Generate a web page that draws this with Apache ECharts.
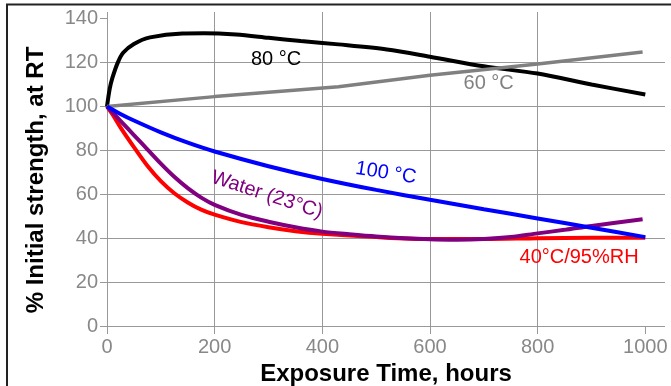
<!DOCTYPE html>
<html>
<head>
<meta charset="utf-8">
<script src="https://cdn.jsdelivr.net/npm/echarts@6/dist/echarts.min.js"></script>
<style>
  html, body { margin: 0; padding: 0; background: #fff; }
  #chart { width: 671px; height: 386px; }
</style>
</head>
<body>
<div id="chart"></div>
<script>
// strength retention vs exposure time
var xTicks = [0, 200, 400, 600, 800, 1000];
var yTicks = [0, 20, 40, 60, 80, 100, 120, 140];

var rh40 = [[0,100],[10,96.5],[25,90.5],[50,81.5],[75,73],[100,66],[125,60.5],[150,56.3],[175,53],[200,50.7],[250,47.3],[300,45],[350,43.2],[400,42],[500,40.5],[600,39.6],[700,39.6],[800,40],[900,40.2],[1000,40.2]];
var water = [[0,100],[25,93.5],[50,87],[75,80.5],[100,74],[125,68],[150,62.8],[175,58.5],[200,55.2],[250,50.6],[300,47.5],[350,45],[400,43],[450,41.8],[500,40.8],[600,39.5],[650,39.3],[700,39.6],[750,40.5],[800,42.2],[850,43.8],[900,45.6],[995,48.6]];
var t80 = [[0,100],[5,108],[10,113],[20,120],[30,124.5],[50,128.5],[80,131.5],[140,133.3],[180,133.4],[240,132.8],[300,131.3],[360,129.8],[430,128.3],[520,126],[600,122.7],[700,118.3],[800,115],[900,110],[1000,105.5]];
var t60 = [[0,100],[200,104.5],[430,109],[600,114.2],[800,119.4],[995,124.8]];
var t100 = [[0,100],[25,96.6],[50,93.6],[100,88.2],[150,83.5],[200,79.5],[300,72.8],[400,67],[500,62],[600,57.5],[700,53.2],[800,49],[900,44.8],[1000,40.5]];

// curve labels: text, anchor in data coords, colour, rotation (deg, clockwise negative)
var labels = [
  ['80 °C', 314, 121.2, '#000000', 0],
  ['60 °C', 709, 110.3, '#808080', 0],
  ['100 °C', 518, 69.7, '#0000ff', -9],
  ['Water (23°C)', 297, 59.7, '#800080', -18],
  ['40°C/95%RH', 877, 31.4, '#ff0000', 0]
];

var font = 'Liberation Sans, Arial, sans-serif';
var chart = echarts.init(document.getElementById('chart'));

function line(name, data, color, width, smooth) {
  return {
    name: name, type: 'line', data: data, smooth: smooth, showSymbol: false,
    lineStyle: { color: color, width: width, cap: 'butt' },
    silent: true
  };
}

chart.setOption({
  animation: false,
  grid: { left: 107, right: 6, top: 12, bottom: 60, outerBoundsMode: 'none' },
  xAxis: {
    type: 'value', min: 0, max: 1036.6, interval: 200,
    axisLine: { show: false },
    axisTick: { show: true, length: 8, customValues: xTicks, lineStyle: { color: '#999' } },
    splitLine: { show: true, showMaxLine: false, lineStyle: { color: '#999', width: 1 } },
    axisLabel: { customValues: xTicks, fontSize: 20, color: '#888', margin: 11, fontFamily: font,
      formatter: function (v) { return String(v); } },
    name: 'Exposure Time, hours', nameLocation: 'middle', nameGap: 29,
    nameTextStyle: { fontSize: 24, fontWeight: 'bold', color: '#000', fontFamily: font }
  },
  yAxis: {
    type: 'value', min: 0, max: 143.05, interval: 20,
    axisLine: { show: false },
    axisTick: { show: true, length: 7, customValues: yTicks, lineStyle: { color: '#999' } },
    splitLine: { show: true, showMaxLine: false, lineStyle: { color: '#999', width: 1 } },
    axisLabel: { customValues: yTicks, fontSize: 20, color: '#888', margin: 9, fontFamily: font,
      formatter: function (v) { return String(v); } }
  },
  series: [
    line('40°C/95%RH', rh40, '#ff0000', 4, 0.3),
    line('Water (23°C)', water, '#800080', 4, 0.3),
    line('80 °C', t80, '#000000', 4, 0.3),
    line('60 °C', t60, '#808080', 3.5, false),
    line('100 °C', t100, '#0000ff', 4, 0.3)
  ]
});

var g = [
  { type: 'line', shape: { x1: 6, y1: 4.5, x2: 671, y2: 4.5 }, style: { stroke: '#222', lineWidth: 2 } },
  { type: 'line', shape: { x1: 7, y1: 4, x2: 7, y2: 386 }, style: { stroke: '#222', lineWidth: 2 } },
  { type: 'text', x: 36, y: 180, rotation: Math.PI / 2,
    style: { text: '% Initial strength, at RT', fill: '#000', fontSize: 24, fontWeight: 'bold',
      fontFamily: font, align: 'center', verticalAlign: 'middle' } }
];
labels.forEach(function (l) {
  var p = chart.convertToPixel({ gridIndex: 0 }, [l[1], l[2]]);
  g.push({
    type: 'text', x: p[0], y: p[1], rotation: l[4] * Math.PI / 180,
    style: { text: l[0], fill: l[3], fontSize: 20, fontFamily: font, align: 'center', verticalAlign: 'middle' }
  });
});
chart.setOption({ graphic: g });
</script>
</body>
</html>
